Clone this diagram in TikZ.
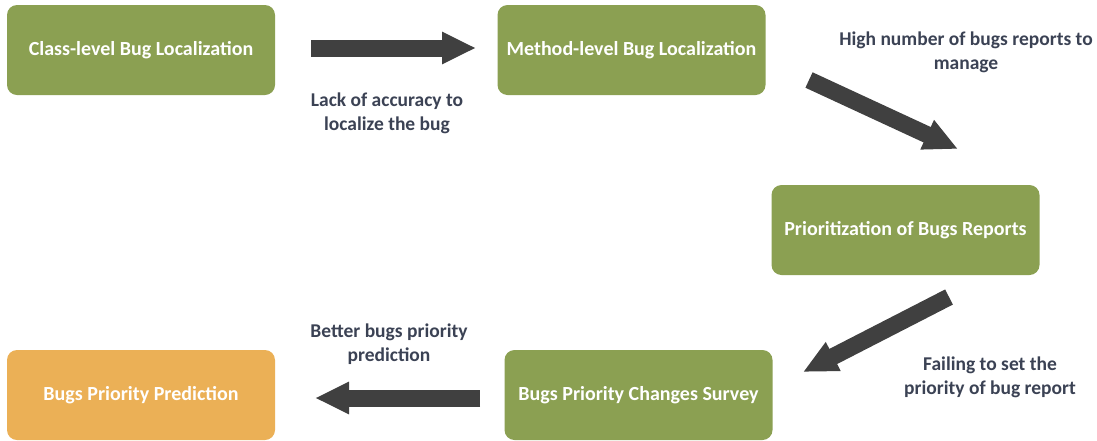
\documentclass[tikz,border=0pt]{standalone}
\usepackage{fontspec}
\setmainfont{Carlito}
\usepackage{xcolor}
\usetikzlibrary{arrows.meta}
\definecolor{boxgreen}{HTML}{8BA052}
\definecolor{boxorange}{HTML}{EBB056}
\definecolor{labeltext}{HTML}{3B4254}
\definecolor{arrowgray}{HTML}{404040}
\begin{document}
\begin{tikzpicture}[x=1pt, y=-1pt,
    box/.style={rectangle, rounded corners=10pt, fill=boxgreen, minimum width=268pt, minimum height=90pt, align=center, text=white, font=\fontsize{20}{24}\selectfont\bfseries},
    note/.style={align=center, text=labeltext, font=\fontsize{19.5}{24}\selectfont\bfseries},
    bigarrow/.style={draw=arrowgray, line width=17pt, -{Triangle[length=34pt, width=30pt]}}
]
\useasboundingbox (0,0) rectangle (1097,440);
% Boxes
\node[box] (cls) at (141,50) {Class-level Bug Localization};
\node[box] (mth) at (631.5,50) {Method-level Bug Localization};
\node[box] (prio) at (905.5,230) {Prioritization of Bugs Reports};
\node[box] (surv) at (638.5,395) {Bugs Priority Changes Survey};
\node[box, fill=boxorange] (pred) at (141,395) {Bugs Priority Prediction};
% Arrow end points
\coordinate (a1s) at (311,48);
\coordinate (a1e) at (476,48);
\coordinate (a2s) at (809,80);
\coordinate (a2e) at (958,149);
\coordinate (a3s) at (949,297);
\coordinate (a3e) at (803,372);
\coordinate (a4s) at (480,398);
\coordinate (a4e) at (315,398);
% Arrows
\draw[bigarrow] (a1s) -- (a1e);
\draw[bigarrow] (a2s) -- (a2e);
\draw[bigarrow] (a3s) -- (a3e);
\draw[bigarrow] (a4s) -- (a4e);
% Notes
\node[note] (n1) at (387,113) {Lack of accuracy to\\localize the bug};
\node[note] (n2) at (966,52) {High number of bugs reports to\\manage};
\node[note] (n3) at (990,377) {Failing to set the\\priority of bug report};
\node[note] (n4) at (389,344) {Better bugs priority\\prediction};
\end{tikzpicture}
\end{document}
